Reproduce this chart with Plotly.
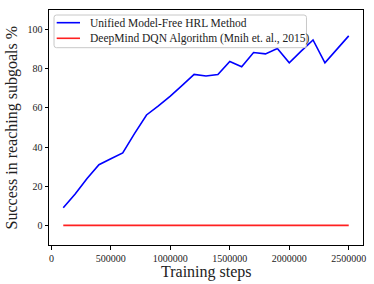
import plotly.graph_objects as go

steps = [100000, 200000, 300000, 400000, 500000, 600000, 700000, 800000, 900000,
         1000000, 1100000, 1200000, 1300000, 1400000, 1500000, 1600000, 1700000,
         1800000, 1900000, 2000000, 2100000, 2200000, 2300000, 2400000, 2500000]
hrl = [9, 16, 24, 31, 34, 37, 47, 56.4, 61, 66, 71.5, 77.1, 76.3, 77.1, 83.7, 81,
       88.3, 87.6, 90.3, 83, 89, 94.7, 83, 90, 96.8]
dqn = [0] * len(steps)
names = ["Unified Model-Free HRL Method", "DeepMind DQN Algorithm (Mnih et. al., 2015)"]
colors = ["#0000ff", "#ff2020"]

font = "Liberation Serif"
txtcol = "#222"

fig = go.Figure()
fig.add_trace(go.Scatter(x=steps, y=hrl, mode="lines", name=names[0],
                         line=dict(color=colors[0], width=1.6), showlegend=False))
fig.add_trace(go.Scatter(x=steps, y=dqn, mode="lines", name=names[1],
                         line=dict(color=colors[1], width=1.6), showlegend=False))

axis_common = dict(showline=True, linecolor="black", linewidth=1, mirror=True,
                   ticks="outside", ticklen=3.5, tickcolor="black", showgrid=False,
                   zeroline=False, automargin=False,
                   tickfont=dict(family=font, size=10, color=txtcol))

# legend drawn in paper coordinates
lx0, lx1, ly0, ly1 = 0.016, 0.820, 0.8396, 0.9787
r = 0.008
rounded = (f"M {lx0+r},{ly0} L {lx1-r},{ly0} Q {lx1},{ly0} {lx1},{ly0+r*1.34} "
           f"L {lx1},{ly1-r*1.34} Q {lx1},{ly1} {lx1-r},{ly1} L {lx0+r},{ly1} "
           f"Q {lx0},{ly1} {lx0},{ly1-r*1.34} L {lx0},{ly0+r*1.34} Q {lx0},{ly0} {lx0+r},{ly0} Z")
shapes = [dict(type="path", xref="paper", yref="paper", path=rounded,
               line=dict(color="#c8c8c8", width=1), fillcolor="rgba(255,255,255,0.85)", layer="above")]
annotations = []
for i, (nm, c) in enumerate(zip(names, colors)):
    yy = [0.946, 0.8796][i]
    shapes.append(dict(type="line", xref="paper", yref="paper", x0=0.0245, x1=0.0987, y0=yy, y1=yy,
                       line=dict(color=c, width=1.6), layer="above"))
    annotations.append(dict(text=nm, xref="paper", yref="paper", x=0.125, y=yy, xanchor="left",
                            yanchor="middle", showarrow=False,
                            font=dict(family=font, size=11.5, color=txtcol)))

annotations.append(dict(text="Training steps", xref="paper", yref="paper", x=0.5, y=-0.113,
                        xanchor="center", yanchor="middle", showarrow=False,
                        font=dict(family=font, size=16, color=txtcol)))
annotations.append(dict(text="Success in reaching subgoals %", xref="paper", yref="paper", x=-0.118, y=0.5,
                        xanchor="center", yanchor="middle", showarrow=False, textangle=-90,
                        font=dict(family=font, size=16, color=txtcol)))

fig.update_layout(
    width=374, height=284,
    margin=dict(l=49, r=11, t=10, b=39),
    paper_bgcolor="white", plot_bgcolor="white",
    showlegend=False,
    shapes=shapes, annotations=annotations,
    xaxis=dict(range=[-20000, 2620000], tickvals=[0, 500000, 1000000, 1500000, 2000000, 2500000],
               ticktext=["0", "500000", "1000000", "1500000", "2000000", "2500000"],
               **axis_common),
    yaxis=dict(range=[-10, 110], tickvals=[0, 20, 40, 60, 80, 100],
               **axis_common),
)

fig.write_html("out.html", post_script="document.body.style.margin='0';",
               config={"displayModeBar": False})
